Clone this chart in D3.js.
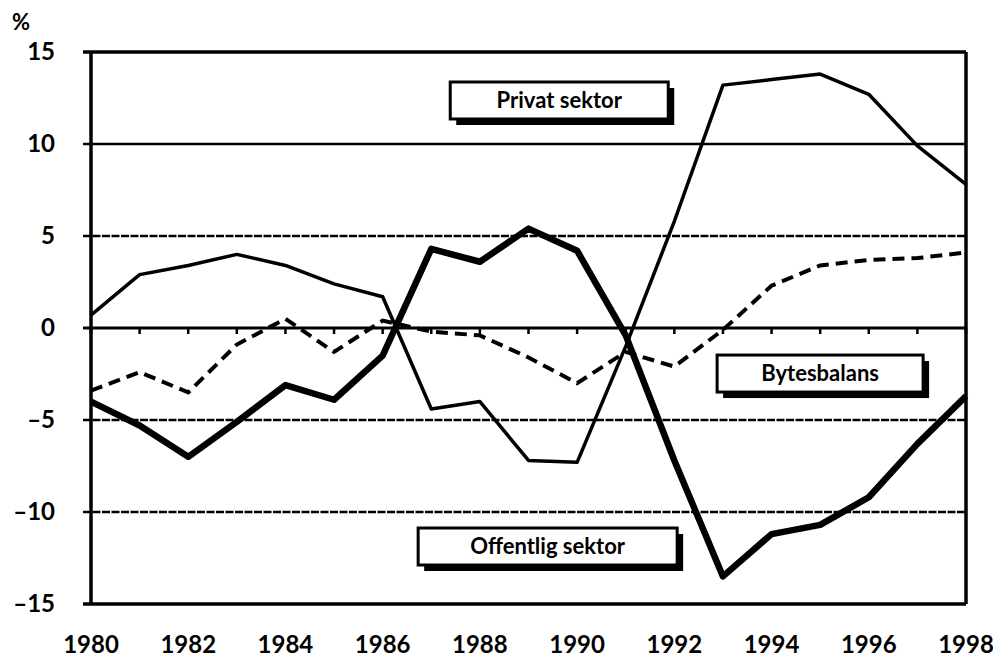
<!DOCTYPE html>
<html>
<head>
<meta charset="utf-8">
<script src="https://cdn.jsdelivr.net/npm/d3@7"></script>
<style>
  body { margin: 0; background: #fff; }
  text { font-family: Lato, "Open Sans", sans-serif; fill: #000; font-weight: bold; }
</style>
</head>
<body>
<svg width="993" height="660"></svg>
<script>
// data (% of GDP)
var years = d3.range(1980, 1999);
var privat = [0.7, 2.9, 3.4, 4.0, 3.4, 2.4, 1.7, -4.4, -4.0, -7.2, -7.3, -1.0, 5.8, 13.2, 13.5, 13.8, 12.7, 9.9, 7.8];
var offentlig = [-4.0, -5.3, -7.0, -5.1, -3.1, -3.9, -1.5, 4.3, 3.6, 5.4, 4.2, -0.4, -7.2, -13.5, -11.2, -10.7, -9.2, -6.3, -3.7];
var bytes = [-3.4, -2.4, -3.5, -0.9, 0.5, -1.3, 0.4, -0.2, -0.4, -1.6, -3.0, -1.3, -2.1, -0.1, 2.3, 3.4, 3.7, 3.8, 4.1];
var yTicks = [15, 10, 5, 0, -5, -10, -15];
var xTicks = [1980, 1982, 1984, 1986, 1988, 1990, 1992, 1994, 1996, 1998];

// boxed labels: top-left corner in data units, width in px
var boxes = [
  {name: "Privat sektor", x: 1987.39, y: 13.37, w: 218},
  {name: "Bytesbalans", x: 1992.88, y: -1.47, w: 206},
  {name: "Offentlig sektor", x: 1986.73, y: -10.87, w: 259}
];

var svg = d3.select('svg');
var m = {top: 52, right: 27, bottom: 56, left: 91};
var W = 993, H = 660;

var x = d3.scaleLinear().domain([1980, 1998]).range([m.left, W - m.right]);
var y = d3.scaleLinear().domain([-15, 15]).range([H - m.bottom, m.top]);

var fmt = function(d) { return d < 0 ? '\u2013' + Math.abs(d) : '' + d; };

// horizontal grid lines
svg.append('g')
  .selectAll('line')
  .data(yTicks)
  .join('line')
  .attr('x1', m.left - 8)
  .attr('x2', W - m.right)
  .attr('y1', d => y(d))
  .attr('y2', d => y(d))
  .attr('stroke', '#000')
  .attr('stroke-width', d => (d == 15 || d == -15) ? 3.5 : (d == 0 ? 3 : 2.5))
  .attr('stroke-dasharray', d => (d == 5 || d == -5 || d == -10) ? '8,1.5' : null);

// small ticks under the zero line
svg.append('g')
  .selectAll('line')
  .data(years)
  .join('line')
  .attr('x1', d => x(d))
  .attr('x2', d => x(d))
  .attr('y1', y(0))
  .attr('y2', y(0) + 6)
  .attr('stroke', '#000')
  .attr('stroke-width', 2.5);

// left and right frame
svg.append('line')
  .attr('x1', x(1980)).attr('x2', x(1980))
  .attr('y1', y(15)).attr('y2', y(-15))
  .attr('stroke', '#000').attr('stroke-width', 3.5);
svg.append('line')
  .attr('x1', x(1998)).attr('x2', x(1998))
  .attr('y1', y(15)).attr('y2', y(-15))
  .attr('stroke', '#000').attr('stroke-width', 3.5);

// y tick labels
svg.append('g')
  .selectAll('text')
  .data(yTicks)
  .join('text')
  .attr('x', 55)
  .attr('y', d => y(d))
  .attr('dy', '0.35em')
  .attr('text-anchor', 'end')
  .attr('font-size', 24)
  .text(fmt);

// x tick labels
svg.append('g')
  .selectAll('text')
  .data(xTicks)
  .join('text')
  .attr('x', d => x(d))
  .attr('y', 653)
  .attr('text-anchor', 'middle')
  .attr('font-size', 24)
  .text(d => d);

svg.append('text')
  .attr('x', 12)
  .attr('y', 30)
  .attr('font-size', 22)
  .text('%');

// series
var line = d3.line()
  .x((d, i) => x(years[i]))
  .y(d => y(d));

svg.append('path')
  .attr('d', line(privat))
  .attr('fill', 'none')
  .attr('stroke', '#000')
  .attr('stroke-width', 3.5)
  .attr('stroke-linejoin', 'round');

svg.append('path')
  .attr('d', line(bytes))
  .attr('fill', 'none')
  .attr('stroke', '#000')
  .attr('stroke-width', 4)
  .attr('stroke-dasharray', '12,7');

svg.append('path')
  .attr('d', line(offentlig))
  .attr('fill', 'none')
  .attr('stroke', '#000')
  .attr('stroke-width', 6.5)
  .attr('stroke-linejoin', 'round');

// boxed labels with drop shadow
var bh = 37;
var bg = svg.append('g')
  .selectAll('g')
  .data(boxes)
  .join('g')
  .attr('transform', d => 'translate(' + x(d.x) + ',' + y(d.y) + ')');

bg.append('rect')
  .attr('x', 6).attr('y', 6)
  .attr('width', d => d.w).attr('height', bh)
  .attr('fill', '#000');
bg.append('rect')
  .attr('width', d => d.w).attr('height', bh)
  .attr('fill', '#fff')
  .attr('stroke', '#000')
  .attr('stroke-width', 3);
bg.append('text')
  .attr('x', d => d.w / 2)
  .attr('y', bh / 2)
  .attr('dy', '0.36em')
  .attr('text-anchor', 'middle')
  .attr('font-size', 22)
  .text(d => d.name);
</script>
</body>
</html>
